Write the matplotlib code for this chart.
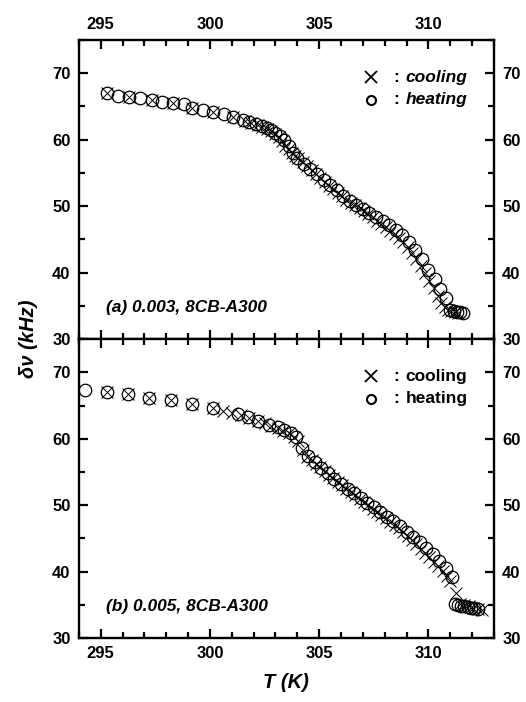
import matplotlib
matplotlib.use("Agg")
import matplotlib.pyplot as plt
from matplotlib.ticker import MultipleLocator

plt.rcParams['font.family'] = ['Liberation Sans', 'DejaVu Sans']
plt.rcParams['font.weight'] = 'bold'

# (a) 0.003, 8CB-A300
a_heat_T = [295.3, 295.8, 296.3, 296.8, 297.35, 297.8, 298.3, 298.8, 299.2, 299.7,
            300.15, 300.65, 301.05, 301.5, 301.8, 302.1, 302.4, 302.6, 302.8, 303.0,
            303.2, 303.4, 303.6, 303.8, 304.0, 304.3, 304.6, 304.9, 305.2, 305.5,
            305.8, 306.1, 306.4, 306.7, 307.0, 307.3, 307.6, 307.9, 308.2, 308.5,
            308.8, 309.1, 309.4, 309.7, 310.0, 310.3, 310.55, 310.8, 311.0, 311.15,
            311.3, 311.45, 311.6]
a_heat_v = [67.0, 66.6, 66.4, 66.2, 65.9, 65.6, 65.5, 65.3, 64.7, 64.5,
            64.1, 63.8, 63.4, 63.0, 62.6, 62.3, 62.0, 61.7, 61.4, 61.0,
            60.6, 60.0, 59.0, 58.0, 57.3, 56.4, 55.6, 54.8, 54.0, 53.2,
            52.4, 51.6, 50.8, 50.2, 49.6, 49.0, 48.4, 47.8, 47.1, 46.4,
            45.6, 44.6, 43.4, 42.0, 40.4, 39.0, 37.6, 36.2, 34.4, 34.2,
            34.0, 34.1, 33.9]
a_cool_T = [295.3, 296.3, 297.35, 298.3, 299.2, 300.15, 301.05, 301.6, 301.9, 302.2,
            302.4, 302.6, 302.8, 303.0, 303.15, 303.3, 303.45, 303.6, 303.75, 303.9,
            304.05, 304.25, 304.45, 304.65, 304.85, 305.05, 305.25, 305.45, 305.65, 305.85,
            306.05, 306.25, 306.45, 306.65, 306.85, 307.05, 307.25, 307.45, 307.65, 307.85,
            308.05, 308.25, 308.45, 308.65, 308.85, 309.05, 309.25, 309.45, 309.65, 309.85,
            310.05, 310.25, 310.45, 310.6, 310.75, 310.9, 311.05, 311.2, 311.35]
a_cool_v = [67.0, 66.4, 65.9, 65.5, 64.7, 64.1, 63.4, 62.8, 62.5, 62.2,
            61.9, 61.6, 61.3, 60.9, 60.4, 59.8, 59.1, 58.6, 58.0, 57.6,
            57.2, 56.6, 56.0, 55.4, 54.8, 54.2, 53.7, 53.1, 52.6, 52.0,
            51.5, 51.0, 50.5, 50.1, 49.7, 49.2, 48.8, 48.3, 47.8, 47.3,
            46.8, 46.3, 45.8, 45.2, 44.6, 43.8, 43.0, 42.1, 41.0, 39.9,
            38.8, 37.7, 36.5, 35.5, 34.8, 34.4, 34.2, 34.0, 33.9]

# (b) 0.005, 8CB-A300
b_heat_T = [294.3, 295.3, 296.25, 297.2, 298.2, 299.2, 300.15, 301.3, 301.75, 302.2,
            302.7, 303.1, 303.4, 303.7, 303.95, 304.2, 304.5, 304.8, 305.1, 305.4,
            305.7, 306.0, 306.3, 306.6, 306.9, 307.2, 307.5, 307.8, 308.1, 308.4,
            308.7, 309.0, 309.3, 309.6, 309.9, 310.2, 310.5, 310.8, 311.1, 311.2,
            311.35, 311.5, 311.65, 311.8, 311.95, 312.1, 312.25]
b_heat_v = [67.4, 67.1, 66.7, 66.2, 65.8, 65.2, 64.6, 63.7, 63.2, 62.7,
            62.1, 61.7, 61.3, 60.8, 60.2, 58.6, 57.4, 56.5, 55.6, 54.8,
            54.0, 53.2, 52.5, 51.8, 51.1, 50.4, 49.7, 49.0, 48.3, 47.6,
            46.8, 46.0, 45.2, 44.4, 43.5, 42.6, 41.6, 40.5, 39.2, 35.2,
            35.0, 34.9, 34.8, 34.7, 34.6, 34.5, 34.4]
b_cool_T = [295.3, 296.25, 297.2, 298.2, 299.2, 300.15, 300.6, 301.0, 301.4, 301.8,
            302.2, 302.5, 302.8, 303.1, 303.35, 303.6, 303.85, 304.05, 304.25, 304.45,
            304.65, 304.85, 305.05, 305.25, 305.45, 305.65, 305.85, 306.05, 306.25, 306.45,
            306.65, 306.85, 307.05, 307.25, 307.45, 307.65, 307.85, 308.05, 308.25, 308.45,
            308.65, 308.85, 309.05, 309.25, 309.45, 309.65, 309.85, 310.05, 310.25, 310.45,
            310.65, 310.85, 311.0, 311.25, 311.45, 311.65, 311.85, 312.05, 312.25, 312.45]
b_cool_v = [67.1, 66.7, 66.2, 65.8, 65.2, 64.6, 64.2, 63.9, 63.5, 63.1,
            62.7, 62.3, 61.9, 61.6, 61.2, 60.8, 60.3, 59.6, 58.3, 57.3,
            56.8, 56.2, 55.7, 55.1, 54.6, 54.1, 53.5, 53.0, 52.5, 52.0,
            51.5, 51.0, 50.5, 50.0, 49.5, 49.0, 48.5, 48.0, 47.5, 47.0,
            46.5, 45.9, 45.3, 44.7, 44.1, 43.4, 42.8, 42.2, 41.5, 40.8,
            40.1, 39.3, 38.6, 36.8, 35.2, 35.0, 34.8, 34.6, 34.4, 34.2]

panels = [
    ("(a) 0.003, 8CB-A300", a_heat_T, a_heat_v, a_cool_T, a_cool_v, True),
    ("(b) 0.005, 8CB-A300", b_heat_T, b_heat_v, b_cool_T, b_cool_v, False),
]

fig = plt.figure(figsize=(5.26, 7.02), dpi=100)
ax1 = fig.add_axes([0.150, 0.517, 0.789, 0.426])
ax2 = fig.add_axes([0.150, 0.091, 0.789, 0.426], sharex=ax1)

for ax, (label, hT, hv, cT, cv, ital) in zip([ax1, ax2], panels):
    ax.plot(hT, hv, 'o', ms=9, mfc='none', mec='black', mew=0.9, ls='none')
    ax.plot(cT, cv, 'x', ms=8, color='black', mew=0.7, ls='none')
    ax.set_xlim(294, 313)
    ax.set_ylim(30, 75)
    ax.xaxis.set_major_locator(MultipleLocator(5))
    ax.xaxis.set_minor_locator(MultipleLocator(1))
    ax.yaxis.set_major_locator(MultipleLocator(10))
    ax.yaxis.set_minor_locator(MultipleLocator(5))
    ax.tick_params(which='both', direction='in', top=True, right=True,
                   labelleft=True, labelright=True, width=1.6, labelsize=12, pad=6)
    ax.tick_params(which='major', length=6.5)
    ax.tick_params(which='minor', length=4)
    for s in ax.spines.values():
        s.set_linewidth(1.7)
    ax.text(0.065, 0.105, label, transform=ax.transAxes, fontsize=12.5,
            style='italic', fontweight='bold', va='center')
    # legend drawn by hand
    ax.plot([0.705], [0.875], 'x', ms=9, color='black', mew=1.3, transform=ax.transAxes)
    ax.plot([0.705], [0.80], 'o', ms=6.5, mfc='none', mec='black', mew=1.5, transform=ax.transAxes)
    st = 'italic' if ital else 'normal'
    for yy, word in [(0.875, 'cooling'), (0.80, 'heating')]:
        ax.text(0.757, yy, ':', transform=ax.transAxes, fontsize=12.5, va='center')
        ax.text(0.787, yy, word, transform=ax.transAxes, fontsize=12.5,
                style=st, va='center')

ax1.tick_params(labelbottom=False, labeltop=True)
ax2.tick_params(labelbottom=True, labeltop=False)

ax2.set_xlabel("T (K)", fontsize=14.5, style='italic', fontweight='bold', labelpad=8)
fig.text(0.055, 0.517, "δν (kHz)", rotation=90, fontsize=14.5, style='italic',
         fontweight='bold', ha='center', va='center')

fig.savefig("out.png", dpi=100)
